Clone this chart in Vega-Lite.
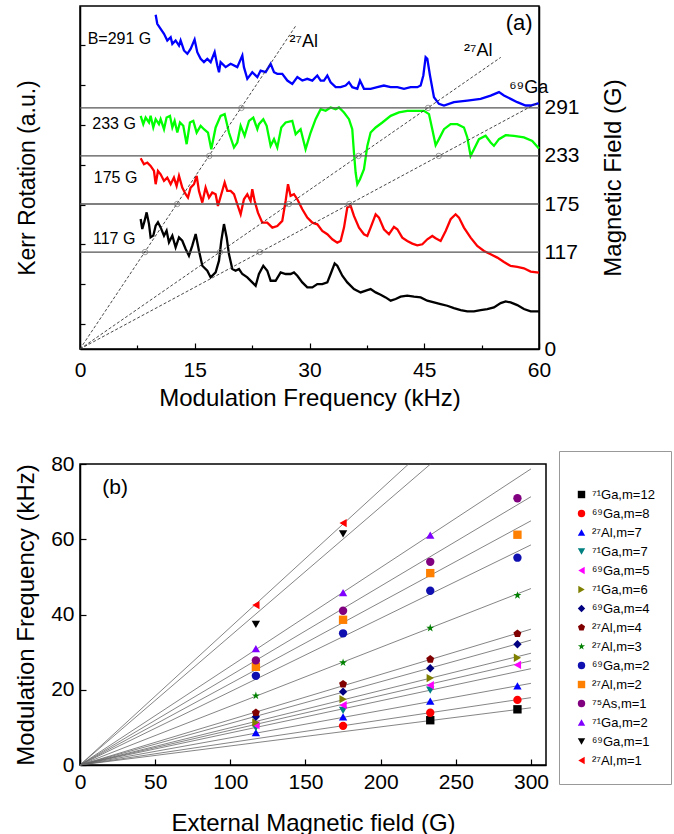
{
  "$schema": "https://vega.github.io/schema/vega-lite/v6.json",
  "padding": {"left": 13, "top": 5, "right": 5, "bottom": 0},
  "background": "white",
  "config": {
    "font": "Liberation Sans",
    "view": {"stroke": "#000", "strokeWidth": 1.5},
    "axis": {"domainColor": "#000", "domainWidth": 1.5, "tickColor": "#000", "tickWidth": 1.2, "labelColor": "#000", "titleColor": "#000", "titleFontWeight": "normal", "labelFontSize": 21, "titleFontSize": 24, "grid": false, "labelFlush": false, "labelOverlap": false, "labelFont": "Liberation Sans", "titleFont": "Liberation Sans"},
    "legend": {"labelFont": "Liberation Sans", "labelFontSize": 13, "labelColor": "#000"}
  },
  "datasets": {
    "spectra": [
      {"t":"291","f":9.89,"B":403.4},{"t":"291","f":10.10,"B":392.5},{"t":"291","f":10.54,"B":386.4},{"t":"291","f":10.98,"B":380.4},{"t":"291","f":11.41,"B":372.4},{"t":"291","f":11.85,"B":376.4},{"t":"291","f":12.07,"B":368.3},{"t":"291","f":12.50,"B":372.4},{"t":"291","f":12.94,"B":366.3},{"t":"291","f":13.15,"B":372.4},{"t":"291","f":13.59,"B":360.3},{"t":"291","f":14.03,"B":356.3},{"t":"291","f":14.46,"B":362.3},{"t":"291","f":14.98,"B":373.6},{"t":"291","f":15.33,"B":358.3},{"t":"291","f":15.77,"B":350.2},{"t":"291","f":16.20,"B":346.2},{"t":"291","f":16.64,"B":350.2},{"t":"291","f":17.08,"B":346.2},{"t":"291","f":17.60,"B":358.3},{"t":"291","f":17.95,"B":342.2},{"t":"291","f":18.17,"B":334.1},{"t":"291","f":18.38,"B":346.2},{"t":"291","f":19.04,"B":340.2},{"t":"291","f":19.69,"B":344.2},{"t":"291","f":20.56,"B":340.2},{"t":"291","f":21.22,"B":354.2},{"t":"291","f":21.43,"B":340.2},{"t":"291","f":21.87,"B":326.1},{"t":"291","f":22.52,"B":334.1},{"t":"291","f":23.18,"B":328.1},{"t":"291","f":23.61,"B":336.1},{"t":"291","f":24.27,"B":334.1},{"t":"291","f":24.92,"B":344.2},{"t":"291","f":25.36,"B":334.1},{"t":"291","f":25.79,"B":332.1},{"t":"291","f":26.44,"B":332.1},{"t":"291","f":27.10,"B":324.0},{"t":"291","f":27.75,"B":320.0},{"t":"291","f":28.41,"B":328.1},{"t":"291","f":29.06,"B":324.0},{"t":"291","f":29.71,"B":326.1},{"t":"291","f":30.37,"B":324.0},{"t":"291","f":31.02,"B":330.1},{"t":"291","f":31.46,"B":324.0},{"t":"291","f":31.89,"B":324.0},{"t":"291","f":32.33,"B":330.1},{"t":"291","f":32.76,"B":322.0},{"t":"291","f":33.42,"B":316.0},{"t":"291","f":34.07,"B":316.0},{"t":"291","f":34.72,"B":318.0},{"t":"291","f":35.16,"B":322.0},{"t":"291","f":35.59,"B":316.0},{"t":"291","f":36.25,"B":314.0},{"t":"291","f":36.60,"B":324.0},{"t":"291","f":37.12,"B":314.0},{"t":"291","f":37.99,"B":314.0},{"t":"291","f":38.86,"B":316.0},{"t":"291","f":39.73,"B":318.0},{"t":"291","f":40.61,"B":316.0},{"t":"291","f":41.48,"B":316.0},{"t":"291","f":42.35,"B":314.0},{"t":"291","f":43.22,"B":316.0},{"t":"291","f":44.09,"B":316.0},{"t":"291","f":44.53,"B":318.0},{"t":"291","f":44.88,"B":330.1},{"t":"291","f":45.18,"B":352.2},{"t":"291","f":45.40,"B":350.2},{"t":"291","f":45.75,"B":330.1},{"t":"291","f":46.27,"B":303.9},{"t":"291","f":46.92,"B":295.9},{"t":"291","f":47.58,"B":293.9},{"t":"291","f":48.88,"B":297.9},{"t":"291","f":50.63,"B":299.9},{"t":"291","f":52.37,"B":301.9},{"t":"291","f":53.68,"B":305.9},{"t":"291","f":54.77,"B":310.0},{"t":"291","f":55.42,"B":305.9},{"t":"291","f":56.29,"B":301.9},{"t":"291","f":57.16,"B":297.9},{"t":"291","f":58.25,"B":293.9},{"t":"291","f":58.91,"B":293.9},{"t":"291","f":59.99,"B":296.7},
      {"t":"233","f":7.93,"B":281.4},{"t":"233","f":8.27,"B":271.4},{"t":"233","f":8.58,"B":279.4},{"t":"233","f":9.02,"B":273.4},{"t":"233","f":9.23,"B":281.4},{"t":"233","f":9.58,"B":267.4},{"t":"233","f":9.89,"B":277.4},{"t":"233","f":10.32,"B":271.4},{"t":"233","f":10.54,"B":277.4},{"t":"233","f":10.98,"B":265.3},{"t":"233","f":11.32,"B":279.4},{"t":"233","f":11.76,"B":281.4},{"t":"233","f":12.07,"B":267.4},{"t":"233","f":12.37,"B":275.4},{"t":"233","f":12.72,"B":261.3},{"t":"233","f":13.07,"B":273.4},{"t":"233","f":13.50,"B":269.4},{"t":"233","f":13.94,"B":247.2},{"t":"233","f":14.37,"B":273.4},{"t":"233","f":14.81,"B":275.4},{"t":"233","f":15.25,"B":261.3},{"t":"233","f":15.77,"B":269.4},{"t":"233","f":16.20,"B":265.3},{"t":"233","f":16.73,"B":261.3},{"t":"233","f":17.16,"B":241.2},{"t":"233","f":17.73,"B":267.4},{"t":"233","f":18.38,"B":281.4},{"t":"233","f":18.91,"B":283.5},{"t":"233","f":19.47,"B":261.3},{"t":"233","f":20.13,"B":243.2},{"t":"233","f":20.56,"B":249.2},{"t":"233","f":21.00,"B":269.4},{"t":"233","f":21.52,"B":257.3},{"t":"233","f":22.09,"B":275.4},{"t":"233","f":22.65,"B":279.4},{"t":"233","f":23.18,"B":265.3},{"t":"233","f":23.39,"B":271.4},{"t":"233","f":23.96,"B":277.4},{"t":"233","f":24.40,"B":269.4},{"t":"233","f":24.92,"B":245.2},{"t":"233","f":25.36,"B":253.3},{"t":"233","f":25.79,"B":243.2},{"t":"233","f":26.31,"B":267.4},{"t":"233","f":26.88,"B":273.4},{"t":"233","f":27.75,"B":275.4},{"t":"233","f":28.19,"B":259.3},{"t":"233","f":28.84,"B":265.3},{"t":"233","f":29.49,"B":241.2},{"t":"233","f":30.15,"B":261.3},{"t":"233","f":30.80,"B":277.4},{"t":"233","f":31.46,"B":289.5},{"t":"233","f":32.11,"B":287.5},{"t":"233","f":32.76,"B":291.5},{"t":"233","f":33.42,"B":289.5},{"t":"233","f":33.85,"B":291.5},{"t":"233","f":34.51,"B":285.5},{"t":"233","f":35.16,"B":277.4},{"t":"233","f":35.59,"B":265.3},{"t":"233","f":35.81,"B":237.2},{"t":"233","f":36.03,"B":213.0},{"t":"233","f":36.25,"B":198.9},{"t":"233","f":36.60,"B":204.9},{"t":"233","f":37.12,"B":217.0},{"t":"233","f":37.56,"B":245.2},{"t":"233","f":37.99,"B":261.3},{"t":"233","f":38.65,"B":267.4},{"t":"233","f":39.52,"B":273.4},{"t":"233","f":40.61,"B":281.4},{"t":"233","f":41.69,"B":285.5},{"t":"233","f":42.78,"B":287.5},{"t":"233","f":43.87,"B":287.5},{"t":"233","f":44.96,"B":287.5},{"t":"233","f":45.62,"B":283.5},{"t":"233","f":46.05,"B":265.3},{"t":"233","f":46.49,"B":246.0},{"t":"233","f":46.92,"B":253.3},{"t":"233","f":47.58,"B":265.3},{"t":"233","f":48.45,"B":271.4},{"t":"233","f":49.32,"B":271.4},{"t":"233","f":50.19,"B":267.4},{"t":"233","f":50.63,"B":255.3},{"t":"233","f":51.06,"B":233.1},{"t":"233","f":51.50,"B":241.2},{"t":"233","f":52.15,"B":253.3},{"t":"233","f":53.02,"B":257.3},{"t":"233","f":53.68,"B":249.2},{"t":"233","f":54.11,"B":245.2},{"t":"233","f":54.77,"B":253.3},{"t":"233","f":55.64,"B":258.1},{"t":"233","f":56.73,"B":257.3},{"t":"233","f":58.03,"B":255.3},{"t":"233","f":59.12,"B":251.2},{"t":"233","f":59.99,"B":242.0},
      {"t":"175","f":7.93,"B":230.2},{"t":"175","f":8.36,"B":223.0},{"t":"175","f":8.80,"B":225.0},{"t":"175","f":9.23,"B":221.0},{"t":"175","f":9.67,"B":214.9},{"t":"175","f":9.89,"B":198.9},{"t":"175","f":10.19,"B":214.9},{"t":"175","f":10.54,"B":210.9},{"t":"175","f":10.98,"B":202.9},{"t":"175","f":11.41,"B":206.9},{"t":"175","f":11.85,"B":198.9},{"t":"175","f":12.28,"B":206.9},{"t":"175","f":12.63,"B":196.8},{"t":"175","f":12.94,"B":208.9},{"t":"175","f":13.37,"B":194.8},{"t":"175","f":13.81,"B":186.8},{"t":"175","f":14.11,"B":182.7},{"t":"175","f":14.46,"B":194.8},{"t":"175","f":14.90,"B":198.9},{"t":"175","f":15.25,"B":208.9},{"t":"175","f":15.55,"B":190.8},{"t":"175","f":15.99,"B":176.7},{"t":"175","f":16.42,"B":194.8},{"t":"175","f":16.86,"B":182.7},{"t":"175","f":17.29,"B":188.8},{"t":"175","f":17.73,"B":186.8},{"t":"175","f":18.03,"B":172.7},{"t":"175","f":18.47,"B":186.8},{"t":"175","f":18.91,"B":200.9},{"t":"175","f":19.25,"B":190.8},{"t":"175","f":19.69,"B":190.8},{"t":"175","f":20.13,"B":186.8},{"t":"175","f":20.56,"B":174.7},{"t":"175","f":21.00,"B":162.6},{"t":"175","f":21.43,"B":180.7},{"t":"175","f":21.87,"B":186.8},{"t":"175","f":22.30,"B":178.7},{"t":"175","f":22.52,"B":192.8},{"t":"175","f":22.83,"B":178.7},{"t":"175","f":23.26,"B":164.6},{"t":"175","f":23.83,"B":152.5},{"t":"175","f":24.48,"B":152.5},{"t":"175","f":25.14,"B":146.5},{"t":"175","f":25.79,"B":148.5},{"t":"175","f":26.44,"B":154.6},{"t":"175","f":26.88,"B":178.7},{"t":"175","f":27.19,"B":198.9},{"t":"175","f":27.53,"B":184.8},{"t":"175","f":27.97,"B":186.8},{"t":"175","f":28.41,"B":180.7},{"t":"175","f":29.06,"B":168.6},{"t":"175","f":29.71,"B":158.6},{"t":"175","f":30.37,"B":152.5},{"t":"175","f":31.02,"B":150.5},{"t":"175","f":31.67,"B":142.5},{"t":"175","f":32.33,"B":138.5},{"t":"175","f":32.98,"B":132.4},{"t":"175","f":33.63,"B":128.4},{"t":"175","f":34.07,"B":130.4},{"t":"175","f":34.51,"B":146.5},{"t":"175","f":34.94,"B":170.7},{"t":"175","f":35.38,"B":172.7},{"t":"175","f":35.81,"B":160.6},{"t":"175","f":36.47,"B":146.5},{"t":"175","f":37.12,"B":138.5},{"t":"175","f":37.56,"B":136.4},{"t":"175","f":37.99,"B":146.5},{"t":"175","f":38.65,"B":162.6},{"t":"175","f":39.08,"B":158.6},{"t":"175","f":39.73,"B":144.5},{"t":"175","f":40.39,"B":138.5},{"t":"175","f":41.04,"B":147.3},{"t":"175","f":41.48,"B":144.5},{"t":"175","f":42.13,"B":134.4},{"t":"175","f":42.78,"B":130.4},{"t":"175","f":43.44,"B":127.2},{"t":"175","f":44.09,"B":125.2},{"t":"175","f":44.75,"B":126.4},{"t":"175","f":45.40,"B":132.4},{"t":"175","f":46.05,"B":136.4},{"t":"175","f":46.49,"B":133.6},{"t":"175","f":47.14,"B":130.4},{"t":"175","f":47.80,"B":142.5},{"t":"175","f":48.45,"B":156.6},{"t":"175","f":49.10,"B":162.6},{"t":"175","f":49.54,"B":158.6},{"t":"175","f":50.19,"B":146.5},{"t":"175","f":51.06,"B":134.4},{"t":"175","f":51.93,"B":124.4},{"t":"175","f":52.81,"B":118.3},{"t":"175","f":53.68,"B":114.3},{"t":"175","f":54.55,"B":110.3},{"t":"175","f":55.42,"B":105.0},{"t":"175","f":56.29,"B":100.2},{"t":"175","f":57.16,"B":99.0},{"t":"175","f":58.03,"B":97.4},{"t":"175","f":58.91,"B":93.4},{"t":"175","f":59.99,"B":92.2},
      {"t":"117","f":7.93,"B":156.9},{"t":"117","f":8.14,"B":144.8},{"t":"117","f":8.45,"B":154.9},{"t":"117","f":8.71,"B":164.9},{"t":"117","f":9.02,"B":150.8},{"t":"117","f":9.23,"B":134.7},{"t":"117","f":9.58,"B":136.8},{"t":"117","f":9.89,"B":148.8},{"t":"117","f":10.19,"B":152.9},{"t":"117","f":10.54,"B":146.8},{"t":"117","f":10.98,"B":136.8},{"t":"117","f":11.32,"B":142.8},{"t":"117","f":11.63,"B":128.7},{"t":"117","f":12.07,"B":136.8},{"t":"117","f":12.50,"B":122.7},{"t":"117","f":12.94,"B":134.7},{"t":"117","f":13.37,"B":130.7},{"t":"117","f":13.81,"B":120.7},{"t":"117","f":14.24,"B":112.6},{"t":"117","f":14.68,"B":124.7},{"t":"117","f":15.12,"B":138.8},{"t":"117","f":15.55,"B":118.6},{"t":"117","f":15.99,"B":100.5},{"t":"117","f":16.64,"B":94.5},{"t":"117","f":17.08,"B":86.4},{"t":"117","f":17.73,"B":92.5},{"t":"117","f":18.17,"B":106.6},{"t":"117","f":18.47,"B":130.7},{"t":"117","f":18.82,"B":150.8},{"t":"117","f":19.17,"B":134.7},{"t":"117","f":19.47,"B":114.6},{"t":"117","f":19.91,"B":96.5},{"t":"117","f":20.34,"B":94.5},{"t":"117","f":20.78,"B":96.5},{"t":"117","f":21.22,"B":90.5},{"t":"117","f":21.87,"B":86.4},{"t":"117","f":22.52,"B":80.4},{"t":"117","f":22.96,"B":76.4},{"t":"117","f":23.39,"B":90.5},{"t":"117","f":23.96,"B":100.5},{"t":"117","f":24.48,"B":94.5},{"t":"117","f":24.92,"B":82.4},{"t":"117","f":25.57,"B":82.4},{"t":"117","f":26.23,"B":92.5},{"t":"117","f":26.88,"B":90.5},{"t":"117","f":27.53,"B":90.5},{"t":"117","f":27.97,"B":92.5},{"t":"117","f":28.41,"B":88.4},{"t":"117","f":29.06,"B":80.4},{"t":"117","f":29.71,"B":74.4},{"t":"117","f":30.37,"B":74.4},{"t":"117","f":31.02,"B":78.4},{"t":"117","f":31.67,"B":78.4},{"t":"117","f":32.33,"B":80.4},{"t":"117","f":32.76,"B":90.5},{"t":"117","f":33.29,"B":103.3},{"t":"117","f":33.63,"B":100.5},{"t":"117","f":34.29,"B":88.4},{"t":"117","f":34.94,"B":80.4},{"t":"117","f":35.81,"B":72.3},{"t":"117","f":36.68,"B":68.3},{"t":"117","f":37.56,"B":71.1},{"t":"117","f":37.99,"B":72.3},{"t":"117","f":38.65,"B":68.3},{"t":"117","f":39.30,"B":65.5},{"t":"117","f":39.95,"B":62.3},{"t":"117","f":40.61,"B":58.3},{"t":"117","f":41.26,"B":60.3},{"t":"117","f":41.91,"B":63.1},{"t":"117","f":42.78,"B":64.3},{"t":"117","f":43.66,"B":63.1},{"t":"117","f":44.53,"B":62.3},{"t":"117","f":45.40,"B":58.3},{"t":"117","f":46.27,"B":56.2},{"t":"117","f":47.14,"B":54.2},{"t":"117","f":48.01,"B":52.2},{"t":"117","f":48.88,"B":49.4},{"t":"117","f":49.76,"B":47.0},{"t":"117","f":50.63,"B":45.4},{"t":"117","f":51.50,"B":45.4},{"t":"117","f":52.37,"B":47.0},{"t":"117","f":53.24,"B":48.2},{"t":"117","f":54.11,"B":50.2},{"t":"117","f":54.99,"B":55.4},{"t":"117","f":55.64,"B":57.4},{"t":"117","f":56.29,"B":56.2},{"t":"117","f":57.16,"B":53.0},{"t":"117","f":58.03,"B":48.2},{"t":"117","f":58.91,"B":45.4},{"t":"117","f":59.99,"B":45.4}
    ],
    "guides": [
      {"g":"L1","f":0,"B":0},{"g":"L1","f":28.2,"B":390},
      {"g":"L2","f":0,"B":0},{"g":"L2","f":55.0,"B":352},
      {"g":"L3","f":0,"B":0},{"g":"L3","f":60.0,"B":298}
    ],
    "crossings": [
      {"f":8.5,"B":117},{"f":12.7,"B":175},{"f":16.9,"B":233},{"f":21.1,"B":291},
      {"f":18.3,"B":117},{"f":27.3,"B":175},{"f":36.4,"B":233},{"f":45.5,"B":291},
      {"f":23.5,"B":117},{"f":35.2,"B":175},{"f":46.9,"B":233}
    ],
    "fields": [{"B":117},{"B":175},{"B":233},{"B":291}],
    "fieldLabels": [
      {"label":"B=291 G","f":1.0,"B":374},
      {"label":"233 G","f":1.6,"B":271},
      {"label":"175 G","f":1.8,"B":206},
      {"label":"117 G","f":1.7,"B":133}
    ],
    "isoLabels": [
      {"label":"²⁷Al","f":27.4,"B":370},
      {"label":"²⁷Al","f":50.2,"B":360},
      {"label":"⁶⁹Ga","f":56.1,"B":315}
    ],
    "panelA": [{"label":"(a)","f":57.4,"B":394}],
    "panelB": [{"label":"(b)","B":23.4,"f":73.5}],
    "fits": [
      {"s":"⁷¹Ga,m=12","B":0,"f":0},{"s":"⁷¹Ga,m=12","B":300,"f":15.2},
      {"s":"⁶⁹Ga,m=8","B":0,"f":0},{"s":"⁶⁹Ga,m=8","B":300,"f":17.9},
      {"s":"²⁷Al,m=7","B":0,"f":0},{"s":"²⁷Al,m=7","B":300,"f":21.7},
      {"s":"⁷¹Ga,m=7","B":0,"f":0},{"s":"⁷¹Ga,m=7","B":300,"f":25.6},
      {"s":"⁶⁹Ga,m=5","B":0,"f":0},{"s":"⁶⁹Ga,m=5","B":300,"f":27.7},
      {"s":"⁷¹Ga,m=6","B":0,"f":0},{"s":"⁷¹Ga,m=6","B":300,"f":29.7},
      {"s":"⁶⁹Ga,m=4","B":0,"f":0},{"s":"⁶⁹Ga,m=4","B":300,"f":33.2},
      {"s":"²⁷Al,m=4","B":0,"f":0},{"s":"²⁷Al,m=4","B":300,"f":36.1},
      {"s":"²⁷Al,m=3","B":0,"f":0},{"s":"²⁷Al,m=3","B":300,"f":46.9},
      {"s":"⁶⁹Ga,m=2","B":0,"f":0},{"s":"⁶⁹Ga,m=2","B":300,"f":58.5},
      {"s":"²⁷Al,m=2","B":0,"f":0},{"s":"²⁷Al,m=2","B":300,"f":64.9},
      {"s":"⁷⁵As,m=1","B":0,"f":0},{"s":"⁷⁵As,m=1","B":300,"f":71.3},
      {"s":"⁷¹Ga,m=2","B":0,"f":0},{"s":"⁷¹Ga,m=2","B":300,"f":78.7},
      {"s":"⁶⁹Ga,m=1","B":0,"f":0},{"s":"⁶⁹Ga,m=1","B":233.2,"f":80},
      {"s":"²⁷Al,m=1","B":0,"f":0},{"s":"²⁷Al,m=1","B":218.6,"f":80}
    ],
    "peaks": [
      {"s":"⁷¹Ga,m=12","B":233,"f":11.9},{"s":"⁷¹Ga,m=12","B":291,"f":14.8},
      {"s":"⁶⁹Ga,m=8","B":175,"f":10.4},{"s":"⁶⁹Ga,m=8","B":233,"f":13.9},{"s":"⁶⁹Ga,m=8","B":291,"f":17.3},
      {"s":"²⁷Al,m=7","B":117,"f":8.6},{"s":"²⁷Al,m=7","B":175,"f":12.8},{"s":"²⁷Al,m=7","B":233,"f":17.0},{"s":"²⁷Al,m=7","B":291,"f":21.0},
      {"s":"⁷¹Ga,m=7","B":117,"f":9.9},{"s":"⁷¹Ga,m=7","B":175,"f":14.5},{"s":"⁷¹Ga,m=7","B":233,"f":19.9},
      {"s":"⁶⁹Ga,m=5","B":117,"f":10.6},{"s":"⁶⁹Ga,m=5","B":175,"f":15.9},{"s":"⁶⁹Ga,m=5","B":233,"f":21.2},{"s":"⁶⁹Ga,m=5","B":291,"f":26.6},
      {"s":"⁷¹Ga,m=6","B":117,"f":11.3},{"s":"⁷¹Ga,m=6","B":175,"f":17.5},{"s":"⁷¹Ga,m=6","B":233,"f":23.1},{"s":"⁷¹Ga,m=6","B":291,"f":28.5},
      {"s":"⁶⁹Ga,m=4","B":117,"f":12.8},{"s":"⁶⁹Ga,m=4","B":175,"f":19.5},{"s":"⁶⁹Ga,m=4","B":233,"f":25.7},{"s":"⁶⁹Ga,m=4","B":291,"f":32.1},
      {"s":"²⁷Al,m=4","B":117,"f":13.9},{"s":"²⁷Al,m=4","B":175,"f":21.5},{"s":"²⁷Al,m=4","B":233,"f":28.1},{"s":"²⁷Al,m=4","B":291,"f":34.9},
      {"s":"²⁷Al,m=3","B":117,"f":18.4},{"s":"²⁷Al,m=3","B":175,"f":27.2},{"s":"²⁷Al,m=3","B":233,"f":36.4},{"s":"²⁷Al,m=3","B":291,"f":45.1},
      {"s":"⁶⁹Ga,m=2","B":117,"f":23.7},{"s":"⁶⁹Ga,m=2","B":175,"f":35.0},{"s":"⁶⁹Ga,m=2","B":233,"f":46.3},{"s":"⁶⁹Ga,m=2","B":291,"f":55.1},
      {"s":"²⁷Al,m=2","B":117,"f":26.1},{"s":"²⁷Al,m=2","B":175,"f":38.6},{"s":"²⁷Al,m=2","B":233,"f":51.0},{"s":"²⁷Al,m=2","B":291,"f":61.2},
      {"s":"⁷⁵As,m=1","B":117,"f":27.8},{"s":"⁷⁵As,m=1","B":175,"f":41.0},{"s":"⁷⁵As,m=1","B":233,"f":54.0},{"s":"⁷⁵As,m=1","B":291,"f":70.9},
      {"s":"⁷¹Ga,m=2","B":117,"f":30.9},{"s":"⁷¹Ga,m=2","B":175,"f":45.8},{"s":"⁷¹Ga,m=2","B":233,"f":61.1},
      {"s":"⁶⁹Ga,m=1","B":117,"f":37.4},{"s":"⁶⁹Ga,m=1","B":175,"f":61.4},
      {"s":"²⁷Al,m=1","B":117,"f":42.5},{"s":"²⁷Al,m=1","B":175,"f":64.3}
    ]
  },
  "bounds": "flush",
  "spacing": 115,
  "resolve": {"scale": {"color": "independent", "shape": "independent"}},
  "vconcat": [
    {
      "width": 459,
      "height": 343,
      "resolve": {"axis": {"y": "independent"}},
      "layer": [
        {
          "data": {"name": "spectra"},
          "mark": {"type": "line", "strokeWidth": 2.3},
          "encoding": {
            "x": {"field": "f", "type": "quantitative", "scale": {"domain": [0, 60], "nice": false},
              "axis": {"values": [0, 7.5, 15, 22.5, 30, 37.5, 45, 52.5, 60], "labelExpr": "datum.value % 15 === 0 ? datum.label : ''",
                "tickSize": {"condition": {"test": "datum.value % 15 !== 0", "value": -4}, "value": -6},
                "labelPadding": 16, "title": "Modulation Frequency (kHz)", "titlePadding": 4}},
            "y": {"field": "B", "type": "quantitative", "scale": {"domain": [0, 414], "nice": false},
              "axis": {"orient": "left", "values": [30, 78.5, 127, 174, 222.5, 270.5, 319, 367], "labels": false, "tickSize": -5,
                "title": "Kerr Rotation (a.u.)", "titleFontSize": 23, "titlePadding": 40}},
            "color": {"field": "t", "type": "nominal", "scale": {"domain": ["291", "233", "175", "117"], "range": ["#0000ff", "#00ff00", "#ff0000", "#000000"]}, "legend": null}
          }
        },
        {
          "data": {"name": "fields"},
          "mark": {"type": "rule", "color": "#555", "strokeWidth": 1.3},
          "encoding": {
            "y": {"field": "B", "type": "quantitative", "scale": {"domain": [0, 414], "nice": false},
              "axis": {"orient": "right", "values": [0, 117, 175, 233, 291], "ticks": false, "labelPadding": 5,
                "title": "Magnetic Field (G)", "titleAngle": -90, "titlePadding": 46}}
          }
        },
        {
          "data": {"name": "guides"},
          "mark": {"type": "line", "color": "#333", "strokeWidth": 0.9, "strokeDash": [3, 2]},
          "encoding": {
            "x": {"field": "f", "type": "quantitative"},
            "y": {"field": "B", "type": "quantitative", "scale": {"domain": [0, 414], "nice": false}, "axis": null},
            "detail": {"field": "g", "type": "nominal"}
          }
        },
        {
          "data": {"name": "crossings"},
          "mark": {"type": "point", "shape": "circle", "filled": false, "size": 30, "color": "#777", "strokeWidth": 1},
          "encoding": {
            "x": {"field": "f", "type": "quantitative"},
            "y": {"field": "B", "type": "quantitative", "scale": {"domain": [0, 414], "nice": false}, "axis": null}
          }
        },
        {
          "data": {"name": "fieldLabels"},
          "mark": {"type": "text", "align": "left", "baseline": "middle", "fontSize": 16, "color": "#000"},
          "encoding": {
            "x": {"field": "f", "type": "quantitative"},
            "y": {"field": "B", "type": "quantitative", "scale": {"domain": [0, 414], "nice": false}, "axis": null},
            "text": {"field": "label"}
          }
        },
        {
          "data": {"name": "isoLabels"},
          "mark": {"type": "text", "align": "left", "baseline": "middle", "fontSize": 18, "color": "#000"},
          "encoding": {
            "x": {"field": "f", "type": "quantitative"},
            "y": {"field": "B", "type": "quantitative", "scale": {"domain": [0, 414], "nice": false}, "axis": null},
            "text": {"field": "label"}
          }
        },
        {
          "data": {"name": "panelA"},
          "mark": {"type": "text", "align": "center", "baseline": "middle", "fontSize": 22, "color": "#000"},
          "encoding": {
            "x": {"field": "f", "type": "quantitative"},
            "y": {"field": "B", "type": "quantitative", "scale": {"domain": [0, 414], "nice": false}, "axis": null},
            "text": {"field": "label"}
          }
        }
      ]
    },
    {
      "width": 466,
      "height": 301,
      "layer": [
        {
          "data": {"name": "fits"},
          "mark": {"type": "line", "color": "#666", "strokeWidth": 0.8},
          "encoding": {
            "x": {"field": "B", "type": "quantitative", "scale": {"domain": [0, 310], "nice": false},
              "axis": {"values": [0, 25, 50, 75, 100, 125, 150, 175, 200, 225, 250, 275, 300], "labelExpr": "datum.value % 50 === 0 ? datum.label : ''",
                "tickSize": {"condition": {"test": "datum.value % 50 !== 0", "value": -4}, "value": -6},
                "labelPadding": 12, "title": "External Magnetic field (G)", "titlePadding": 19}},
            "y": {"field": "f", "type": "quantitative", "scale": {"domain": [0, 80], "nice": false},
              "axis": {"values": [0, 10, 20, 30, 40, 50, 60, 70, 80], "labelExpr": "datum.value % 20 === 0 ? datum.label : ''",
                "tickSize": {"condition": {"test": "datum.value % 20 !== 0", "value": -4}, "value": -6},
                "labelPadding": 12, "title": "Modulation Frequency (kHz)", "titlePadding": 12}},
            "detail": {"field": "s", "type": "nominal"}
          }
        },
        {
          "data": {"name": "peaks"},
          "mark": {"type": "point", "filled": true, "size": 70, "opacity": 1},
          "encoding": {
            "x": {"field": "B", "type": "quantitative"},
            "y": {"field": "f", "type": "quantitative"},
            "color": {"field": "s", "type": "nominal",
              "scale": {"domain": ["⁷¹Ga,m=12", "⁶⁹Ga,m=8", "²⁷Al,m=7", "⁷¹Ga,m=7", "⁶⁹Ga,m=5", "⁷¹Ga,m=6", "⁶⁹Ga,m=4", "²⁷Al,m=4", "²⁷Al,m=3", "⁶⁹Ga,m=2", "²⁷Al,m=2", "⁷⁵As,m=1", "⁷¹Ga,m=2", "⁶⁹Ga,m=1", "²⁷Al,m=1"],
                "range": ["#000000", "#ff0000", "#0000ff", "#008080", "#ff00ff", "#808000", "#000080", "#800000", "#008000", "#1010b0", "#ff8000", "#800080", "#8000ff", "#000000", "#ff0000"]},
              "legend": {"orient": "none", "legendX": 479, "legendY": -13, "title": " ", "titleFontSize": 10, "titlePadding": 11, "padding": 16, "strokeColor": "#999", "rowPadding": 5, "symbolSize": 55, "labelFontSize": 13}},
            "shape": {"field": "s", "type": "nominal",
              "scale": {"domain": ["⁷¹Ga,m=12", "⁶⁹Ga,m=8", "²⁷Al,m=7", "⁷¹Ga,m=7", "⁶⁹Ga,m=5", "⁷¹Ga,m=6", "⁶⁹Ga,m=4", "²⁷Al,m=4", "²⁷Al,m=3", "⁶⁹Ga,m=2", "²⁷Al,m=2", "⁷⁵As,m=1", "⁷¹Ga,m=2", "⁶⁹Ga,m=1", "²⁷Al,m=1"],
                "range": ["square", "circle", "triangle-up", "triangle-down", "triangle-left", "triangle-right", "diamond", "M0,-1L0.951,-0.309L0.588,0.809L-0.588,0.809L-0.951,-0.309Z", "M0,-1L0.224,-0.309L0.951,-0.309L0.363,0.118L0.588,0.809L0,0.382L-0.588,0.809L-0.363,0.118L-0.951,-0.309L-0.224,-0.309Z", "circle", "square", "circle", "triangle-up", "triangle-down", "triangle-left"]},
              "legend": {"orient": "none", "legendX": 479, "legendY": -13, "title": " ", "titleFontSize": 10, "titlePadding": 11, "padding": 16, "strokeColor": "#999", "rowPadding": 5, "symbolSize": 55, "labelFontSize": 13}}
          }
        },
        {
          "data": {"name": "panelB"},
          "mark": {"type": "text", "align": "center", "baseline": "middle", "fontSize": 21, "color": "#000"},
          "encoding": {
            "x": {"field": "B", "type": "quantitative"},
            "y": {"field": "f", "type": "quantitative"},
            "text": {"field": "label"}
          }
        }
      ]
    }
  ]
}
